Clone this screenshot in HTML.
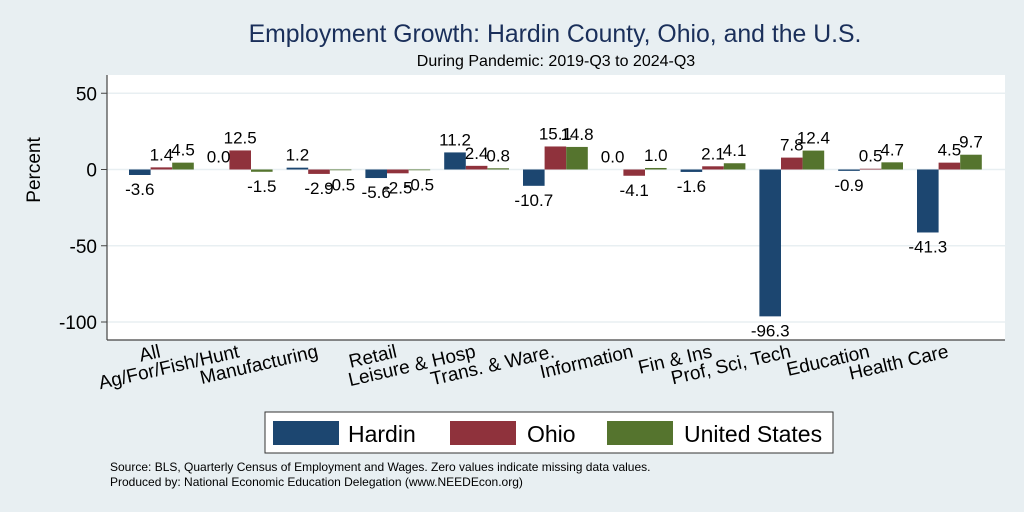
<!DOCTYPE html>
<html><head><meta charset="utf-8"><style>
body{margin:0;background:#e8eff2;}
svg{display:block;font-family:"Liberation Sans",sans-serif;}
</style></head><body>
<svg id="c" width="1024" height="512">
<rect x="0" y="0" width="1024" height="512" fill="#e8eff2"/>
<text x="555" y="42" font-size="24.8" fill="#1a2f5a" text-anchor="middle">Employment Growth: Hardin County, Ohio, and the U.S.</text>
<text x="556" y="66" font-size="16" fill="#000" text-anchor="middle">During Pandemic: 2019-Q3 to 2024-Q3</text>
<rect x="107" y="75" width="898" height="265" fill="#fff"/>
<g id="grid"></g>
<g id="bars"></g>
<g id="vals"></g>
<line x1="107" y1="75" x2="107" y2="340" stroke="#444" stroke-width="1.2"/>
<line x1="107" y1="340" x2="1005" y2="340" stroke="#444" stroke-width="1.2"/>
<g id="yt"></g>
<g id="xl"></g>
<text transform="translate(40,170) rotate(-90)" font-size="19" text-anchor="middle">Percent</text>
<g>
<rect x="265" y="412" width="568" height="41" fill="#fff" stroke="#333" stroke-width="1"/>
<rect x="273" y="421" width="66" height="24" fill="#1c4670"/>
<text x="348" y="442" font-size="23">Hardin</text>
<rect x="450" y="421" width="66" height="24" fill="#8f323c"/>
<text x="527" y="442" font-size="23">Ohio</text>
<rect x="607" y="421" width="66" height="24" fill="#55742e"/>
<text x="684" y="442" font-size="23">United States</text>
</g>
<text x="110" y="471" font-size="12">Source: BLS, Quarterly Census of Employment and Wages. Zero values indicate missing data values.</text>
<text x="110" y="486" font-size="12">Produced by: National Economic Education Delegation (www.NEEDEcon.org)</text>
</svg>
<script>
const categories=["All","Ag/For/Fish/Hunt","Manufacturing","Retail","Leisure & Hosp","Trans. & Ware.","Information","Fin & Ins","Prof, Sci, Tech","Education","Health Care"];
const hardin=[-3.6,0.0,1.2,-5.6,11.2,-10.7,0.0,-1.6,-96.3,-0.9,-41.3];
const ohio=[1.4,12.5,-2.9,-2.5,2.4,15.1,-4.1,2.1,7.8,0.5,4.5];
const us=[4.5,-1.5,-0.5,-0.5,0.8,14.8,1.0,4.1,12.4,4.7,9.7];
const yTicks=[50,0,-50,-100];
const NS="http://www.w3.org/2000/svg";
function y(v){return 169.5-v*1.525;}
function gx(i){return 129+78.8*i;}
const BW=21.6;
function mk(tag,attrs,parent){const e=document.createElementNS(NS,tag);for(const k in attrs)e.setAttribute(k,attrs[k]);document.getElementById(parent).appendChild(e);return e;}
yTicks.forEach(t=>{
  const g=mk('line',{x1:107,x2:1005,y1:y(t),y2:y(t),stroke:'#e8eff2','stroke-width':1.5},'grid');
  
  
  const tk=mk('line',{x1:101,x2:107,y1:y(t),y2:y(t),stroke:'#444'},'yt');
  
  
  const tx=mk('text',{x:97,y:y(t)+7,'font-size':19,'text-anchor':'end'},'yt');
  tx.textContent=t;
  
  
});
const series=[[hardin,'#1c4670','hardin'],[ohio,'#8f323c','ohio'],[us,'#55742e','us']];
categories.forEach((c,i)=>{
  series.forEach((s,j)=>{
    const v=s[0][i];const x=gx(i)+j*BW;
    const r=mk('rect',{x:x,y:Math.min(y(v),y(0)),width:BW,height:Math.abs(y(v)-y(0)),fill:s[1]},'bars');
    
    
    const ty=v>=0?y(v)-7:y(v)+20;
    const t=mk('text',{x:x+BW/2,y:ty,'font-size':17,'text-anchor':'middle'},'vals');
    t.textContent=v.toFixed(1);
    
    
  });
  const cx=gx(i)+BW*1.5;const cy=357;
  const l=mk('text',{x:cx,y:cy,'font-size':19,'text-anchor':'end',transform:'rotate(-13 '+cx+' '+cy+')'},'xl');
  l.textContent=c;
  
  
});
</script>
</body></html>
